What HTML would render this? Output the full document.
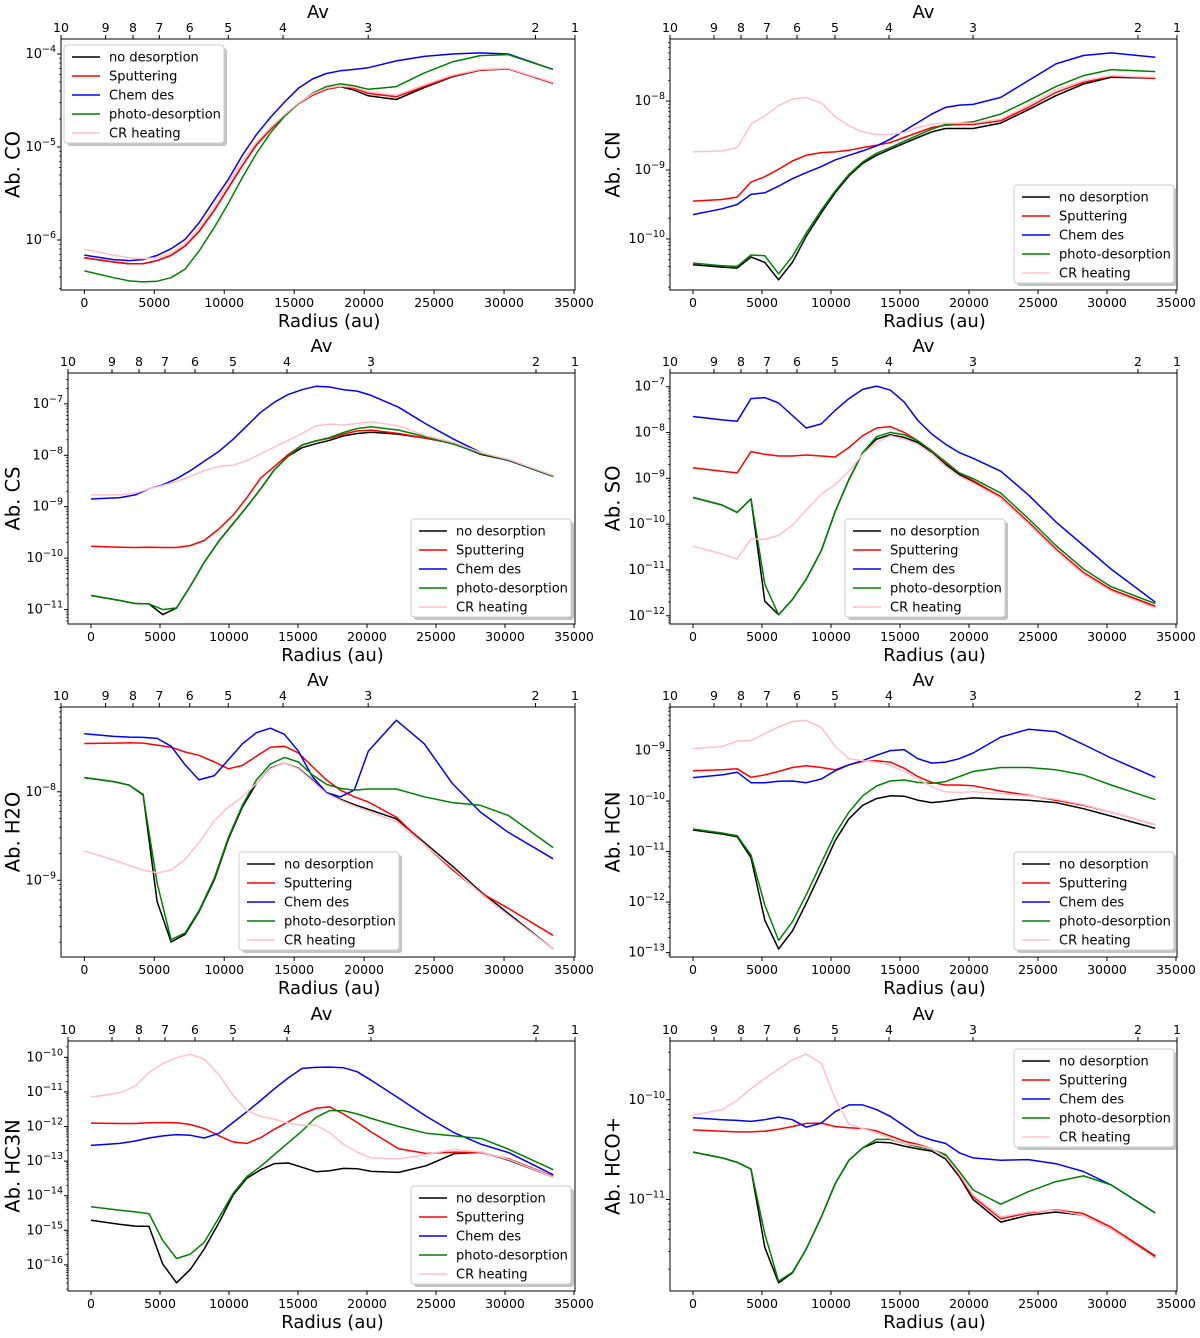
<!DOCTYPE html>
<html><head><meta charset="utf-8"><title>Desorption abundances</title>
<style>
html,body{margin:0;padding:0;background:#fff;}
svg{display:block;font-family:"DejaVu Sans","Liberation Sans",sans-serif;}
</style></head>
<body>
<svg id="fig" width="1200" height="1338" viewBox="0 0 1200 1338" xmlns="http://www.w3.org/2000/svg"></svg>
<script>
// Radius grid (au)
const radius = [0,2100,3200,4200,5200,6200,7200,8200,9300,10300,11300,12300,13300,14300,15300,16300,17300,18300,19300,20300,22300,24300,26300,28300,30300,33500];
// Av top-axis: labels and the radius (au) where each Av occurs
const avLabels = [10,9,8,7,6,5,4,3,2,1];
const avRadius = [-1667,1522,3478,5362,7536,10290,14203,20290,32246,35072];
const xTicks = [0,5000,10000,15000,20000,25000,30000,35000];
const seriesNames = ["no desorption","Sputtering","Chem des","photo-desorption","CR heating"];
// all values: log10(abundance)
const co_none=[-6.192,-6.237,-6.255,-6.255,-6.222,-6.166,-6.065,-5.909,-5.679,-5.439,-5.199,-4.978,-4.812,-4.664,-4.535,-4.443,-4.380,-4.351,-4.390,-4.450,-4.490,-4.360,-4.245,-4.175,-4.160,-4.314];
const co_sput=[-6.192,-6.237,-6.255,-6.255,-6.222,-6.166,-6.065,-5.909,-5.679,-5.439,-5.199,-4.978,-4.812,-4.664,-4.535,-4.443,-4.380,-4.351,-4.369,-4.424,-4.461,-4.351,-4.240,-4.173,-4.159,-4.314];
const co_chem=[-6.163,-6.211,-6.222,-6.211,-6.166,-6.094,-5.994,-5.817,-5.568,-5.347,-5.089,-4.867,-4.683,-4.517,-4.369,-4.269,-4.210,-4.181,-4.166,-4.148,-4.074,-4.026,-4.0,-3.989,-4.0,-4.166];
const co_photo=[-6.333,-6.406,-6.440,-6.451,-6.443,-6.406,-6.313,-6.120,-5.863,-5.605,-5.328,-5.070,-4.849,-4.672,-4.535,-4.424,-4.351,-4.321,-4.343,-4.380,-4.351,-4.203,-4.085,-4.018,-4.007,-4.166];
const co_cr=[-6.100,-6.163,-6.192,-6.200,-6.192,-6.147,-6.035,-5.872,-5.635,-5.391,-5.155,-4.948,-4.793,-4.653,-4.528,-4.432,-4.369,-4.343,-4.358,-4.406,-4.443,-4.332,-4.229,-4.166,-4.155,-4.306];
const cn_none=[-10.374,-10.408,-10.422,-10.262,-10.340,-10.592,-10.340,-9.961,-9.621,-9.330,-9.087,-8.903,-8.786,-8.699,-8.612,-8.529,-8.447,-8.398,-8.398,-8.398,-8.320,-8.126,-7.922,-7.752,-7.655,-7.670];
const cn_sput=[-9.451,-9.427,-9.393,-9.175,-9.097,-8.990,-8.869,-8.786,-8.748,-8.738,-8.714,-8.675,-8.641,-8.602,-8.529,-8.456,-8.383,-8.350,-8.340,-8.340,-8.286,-8.092,-7.874,-7.728,-7.641,-7.670];
const cn_chem=[-9.646,-9.563,-9.500,-9.354,-9.330,-9.233,-9.126,-9.039,-8.951,-8.854,-8.786,-8.723,-8.650,-8.553,-8.432,-8.311,-8.189,-8.092,-8.058,-8.049,-7.947,-7.704,-7.461,-7.340,-7.301,-7.364];
const cn_photo=[-10.350,-10.388,-10.398,-10.233,-10.243,-10.505,-10.252,-9.913,-9.583,-9.306,-9.063,-8.883,-8.757,-8.675,-8.583,-8.495,-8.408,-8.340,-8.320,-8.301,-8.189,-7.995,-7.791,-7.631,-7.544,-7.573];
const cn_cr=[-8.738,-8.723,-8.675,-8.335,-8.214,-8.068,-7.971,-7.947,-8.029,-8.223,-8.359,-8.447,-8.485,-8.485,-8.456,-8.383,-8.335,-8.320,-8.320,-8.320,-8.262,-8.058,-7.835,-7.704,-7.631,-7.655];
const cs_none=[-10.725,-10.823,-10.882,-10.889,-11.098,-10.967,-10.541,-10.082,-9.656,-9.328,-9.0,-8.652,-8.279,-8.016,-7.852,-7.774,-7.708,-7.623,-7.577,-7.551,-7.590,-7.669,-7.774,-7.984,-8.102,-8.410];
const cs_sput=[-9.767,-9.787,-9.793,-9.787,-9.793,-9.793,-9.754,-9.656,-9.426,-9.164,-8.823,-8.443,-8.213,-7.984,-7.8,-7.721,-7.669,-7.590,-7.525,-7.511,-7.577,-7.669,-7.774,-7.970,-8.102,-8.410];
const cs_chem=[-8.849,-8.823,-8.770,-8.652,-8.574,-8.456,-8.298,-8.115,-7.918,-7.689,-7.426,-7.164,-6.967,-6.816,-6.725,-6.659,-6.672,-6.725,-6.751,-6.836,-7.066,-7.393,-7.689,-7.951,-8.102,-8.410];
const cs_photo=[-10.725,-10.823,-10.882,-10.889,-11.0,-10.967,-10.541,-10.082,-9.656,-9.328,-9.0,-8.652,-8.279,-8.016,-7.8,-7.721,-7.656,-7.557,-7.479,-7.446,-7.511,-7.643,-7.787,-7.970,-8.095,-8.410];
const cs_cr=[-8.770,-8.770,-8.738,-8.652,-8.587,-8.508,-8.410,-8.298,-8.213,-8.193,-8.102,-7.970,-7.839,-7.708,-7.577,-7.426,-7.393,-7.413,-7.380,-7.348,-7.426,-7.623,-7.754,-7.951,-8.082,-8.390];
const so_none=[-9.419,-9.581,-9.743,-9.448,-11.683,-11.978,-11.646,-11.204,-10.577,-9.729,-9.028,-8.438,-8.143,-8.047,-8.106,-8.217,-8.438,-8.696,-8.917,-9.065,-9.397,-9.950,-10.540,-11.056,-11.425,-11.794];
const so_sput=[-8.770,-8.844,-8.881,-8.416,-8.475,-8.512,-8.512,-8.490,-8.512,-8.534,-8.327,-8.069,-7.900,-7.870,-7.996,-8.180,-8.401,-8.659,-8.881,-9.050,-9.397,-9.950,-10.540,-11.056,-11.425,-11.794];
const so_chem=[-7.649,-7.723,-7.752,-7.258,-7.236,-7.354,-7.627,-7.900,-7.811,-7.516,-7.258,-7.059,-6.985,-7.074,-7.332,-7.737,-8.032,-8.254,-8.438,-8.563,-8.844,-9.360,-9.950,-10.466,-10.982,-11.705];
const so_photo=[-9.419,-9.581,-9.743,-9.448,-11.314,-11.978,-11.646,-11.204,-10.577,-9.729,-9.028,-8.438,-8.091,-7.996,-8.047,-8.180,-8.401,-8.637,-8.881,-9.006,-9.323,-9.876,-10.466,-10.982,-11.366,-11.735];
const so_cr=[-10.481,-10.650,-10.761,-10.319,-10.333,-10.245,-10.024,-9.692,-9.345,-9.139,-8.844,-8.475,-8.217,-8.069,-8.143,-8.254,-8.460,-8.733,-8.954,-9.102,-9.434,-9.987,-10.577,-11.093,-11.462,-11.830];
const h2o_none=[-7.840,-7.885,-7.924,-8.031,-9.240,-9.698,-9.611,-9.355,-8.992,-8.534,-8.172,-7.905,-7.733,-7.676,-7.733,-7.866,-8.008,-8.084,-8.145,-8.198,-8.305,-8.573,-8.840,-9.126,-9.374,-9.775];
const h2o_sput=[-7.454,-7.450,-7.447,-7.450,-7.473,-7.496,-7.550,-7.588,-7.664,-7.740,-7.702,-7.599,-7.496,-7.485,-7.561,-7.714,-7.866,-7.981,-8.057,-8.115,-8.286,-8.592,-8.878,-9.137,-9.317,-9.622];
const h2o_chem=[-7.344,-7.374,-7.382,-7.385,-7.397,-7.485,-7.695,-7.866,-7.817,-7.637,-7.458,-7.332,-7.282,-7.351,-7.542,-7.828,-8.008,-8.057,-7.981,-7.542,-7.191,-7.458,-7.905,-8.229,-8.458,-8.756];
const h2o_photo=[-7.840,-7.885,-7.924,-8.038,-9.031,-9.672,-9.595,-9.344,-8.973,-8.515,-8.153,-7.866,-7.687,-7.611,-7.664,-7.809,-7.916,-7.962,-7.981,-7.969,-7.969,-8.057,-8.122,-8.153,-8.267,-8.630];
const h2o_cr=[-8.668,-8.771,-8.832,-8.885,-8.916,-8.885,-8.763,-8.573,-8.324,-8.172,-8.057,-7.905,-7.740,-7.676,-7.740,-7.878,-8.019,-8.095,-8.160,-8.221,-8.336,-8.592,-8.859,-9.145,-9.393,-9.775];
const hcn_none=[-10.572,-10.652,-10.706,-11.120,-12.358,-12.926,-12.572,-12.023,-11.388,-10.786,-10.351,-10.084,-9.950,-9.896,-9.903,-9.983,-10.030,-10.003,-9.963,-9.936,-9.963,-9.983,-10.030,-10.151,-10.298,-10.538];
const hcn_sput=[-9.401,-9.381,-9.361,-9.528,-9.482,-9.415,-9.334,-9.301,-9.334,-9.381,-9.281,-9.214,-9.201,-9.227,-9.348,-9.515,-9.629,-9.682,-9.682,-9.696,-9.803,-9.883,-9.983,-10.084,-10.217,-10.472];
const hcn_chem=[-9.535,-9.482,-9.428,-9.635,-9.635,-9.609,-9.602,-9.635,-9.562,-9.401,-9.281,-9.201,-9.094,-9.0,-8.980,-9.161,-9.247,-9.227,-9.161,-9.047,-8.732,-8.579,-8.625,-8.880,-9.147,-9.528];
const hcn_photo=[-10.552,-10.632,-10.686,-11.067,-12.057,-12.759,-12.391,-11.856,-11.221,-10.652,-10.217,-9.896,-9.702,-9.602,-9.582,-9.629,-9.649,-9.615,-9.515,-9.415,-9.334,-9.334,-9.381,-9.482,-9.682,-9.970];
const hcn_cr=[-8.960,-8.920,-8.813,-8.799,-8.666,-8.532,-8.425,-8.398,-8.545,-8.913,-9.161,-9.201,-9.227,-9.294,-9.415,-9.562,-9.716,-9.816,-9.829,-9.816,-9.849,-9.896,-9.963,-10.070,-10.217,-10.472];
const hc3n_none=[-14.712,-14.829,-14.878,-14.888,-15.980,-16.517,-16.127,-15.541,-14.761,-13.980,-13.493,-13.249,-13.073,-13.054,-13.180,-13.307,-13.278,-13.210,-13.220,-13.298,-13.327,-13.132,-12.790,-12.741,-12.976,-13.463];
const hc3n_sput=[-11.902,-11.912,-11.912,-11.893,-11.883,-11.893,-11.941,-12.059,-12.273,-12.449,-12.488,-12.322,-12.078,-11.863,-11.639,-11.473,-11.434,-11.639,-11.883,-12.156,-12.644,-12.780,-12.741,-12.761,-12.937,-13.444];
const hc3n_chem=[-12.546,-12.488,-12.420,-12.332,-12.273,-12.234,-12.254,-12.332,-12.195,-11.883,-11.571,-11.249,-10.907,-10.595,-10.322,-10.293,-10.283,-10.302,-10.420,-10.663,-11.180,-11.707,-12.176,-12.517,-12.761,-13.395];
const hc3n_photo=[-14.322,-14.420,-14.468,-14.517,-15.298,-15.815,-15.688,-15.346,-14.615,-13.932,-13.444,-13.151,-12.810,-12.468,-12.127,-11.737,-11.541,-11.541,-11.639,-11.766,-12.0,-12.195,-12.273,-12.351,-12.663,-13.249];
const hc3n_cr=[-11.151,-11.024,-10.829,-10.439,-10.176,-10.010,-9.912,-10.049,-10.517,-11.102,-11.541,-11.707,-11.785,-11.902,-11.961,-11.961,-12.176,-12.517,-12.741,-12.907,-12.937,-12.810,-12.663,-12.741,-12.956,-13.463];
const hco_none=[-10.525,-10.583,-10.627,-10.695,-11.481,-11.837,-11.736,-11.498,-11.176,-10.844,-10.607,-10.481,-10.424,-10.431,-10.464,-10.492,-10.515,-10.593,-10.769,-11.0,-11.227,-11.159,-11.125,-11.159,-11.295,-11.583];
const hco_sput=[-10.302,-10.315,-10.322,-10.322,-10.315,-10.295,-10.268,-10.237,-10.234,-10.268,-10.281,-10.288,-10.312,-10.363,-10.414,-10.447,-10.492,-10.566,-10.753,-10.973,-11.193,-11.136,-11.102,-11.142,-11.278,-11.566];
const hco_chem=[-10.180,-10.200,-10.207,-10.217,-10.200,-10.173,-10.200,-10.275,-10.234,-10.119,-10.051,-10.051,-10.098,-10.166,-10.261,-10.356,-10.403,-10.437,-10.532,-10.583,-10.607,-10.600,-10.641,-10.719,-10.854,-11.136];
const hco_photo=[-10.525,-10.583,-10.627,-10.695,-11.346,-11.820,-11.730,-11.498,-11.176,-10.844,-10.607,-10.481,-10.397,-10.397,-10.437,-10.471,-10.498,-10.549,-10.719,-10.905,-11.047,-10.922,-10.820,-10.763,-10.854,-11.136];
const hco_cr=[-10.153,-10.098,-10.007,-9.888,-9.786,-9.692,-9.600,-9.542,-9.634,-9.990,-10.244,-10.288,-10.329,-10.390,-10.437,-10.458,-10.492,-10.573,-10.742,-10.956,-11.176,-11.125,-11.108,-11.159,-11.295,-11.590];

const colors = ["#000000","#ff0000","#0000ff","#008000","#ffc0cb"];
const panels = [
 {id:"co", title:"Ab. CO", L:61,R:575,T:39,B:290, y0:-6.538,y1:-3.839, leg:[64,45], s:[co_none,co_sput,co_chem,co_photo,co_cr]},
 {id:"cn", title:"Ab. CN", L:670,R:1177,T:39,B:290, y0:-10.74,y1:-7.10, leg:[1014,185], s:[cn_none,cn_sput,cn_chem,cn_photo,cn_cr]},
 {id:"cs", title:"Ab. CS", L:68,R:575,T:373,B:624, y0:-11.28,y1:-6.40, leg:[411,519], s:[cs_none,cs_sput,cs_chem,cs_photo,cs_cr]},
 {id:"so", title:"Ab. SO", L:670,R:1177,T:373,B:624, y0:-12.18,y1:-6.70, leg:[845,519], s:[so_none,so_sput,so_chem,so_photo,so_cr]},
 {id:"h2o", title:"Ab. H2O", L:61,R:575,T:707,B:957, y0:-9.867,y1:-7.042, leg:[239,852], s:[h2o_none,h2o_sput,h2o_chem,h2o_photo,h2o_cr]},
 {id:"hcn", title:"Ab. HCN", L:670,R:1177,T:707,B:957, y0:-13.087,y1:-8.137, leg:[1014,852], s:[hcn_none,hcn_sput,hcn_chem,hcn_photo,hcn_cr]},
 {id:"hc3n", title:"Ab. HC3N", L:68,R:575,T:1041,B:1291, y0:-16.754,y1:-9.529, leg:[411,1186], s:[hc3n_none,hc3n_sput,hc3n_chem,hc3n_photo,hc3n_cr]},
 {id:"hco", title:"Ab. HCO+", L:670,R:1177,T:1041,B:1291, y0:-11.918,y1:-9.41, leg:[1014,1049], s:[hco_none,hco_sput,hco_chem,hco_photo,hco_cr]}
];
const XMIN=-1667, XMAX=35072;
const NS="http://www.w3.org/2000/svg";
const svg=document.getElementById('fig');
function mk(tag,attrs,parent){const e=document.createElementNS(NS,tag);for(const k in attrs)e.setAttribute(k,attrs[k]);(parent||svg).appendChild(e);return e;}

panels.forEach(p=>{
  const g=mk('g',{});
  
  
  const xs=r=>p.L+(r-XMIN)/(XMAX-XMIN)*(p.R-p.L);
  const ys=v=>p.B-(v-p.y0)/(p.y1-p.y0)*(p.B-p.T);
  const clipId='clip-'+p.id;
  const cp=mk('clipPath',{id:clipId},g);
  mk('rect',{x:p.L,y:p.T,width:p.R-p.L,height:p.B-p.T},cp);
  const lg=mk('g',{'clip-path':'url(#'+clipId+')'},g);
  p.s.forEach((arr,i)=>{
    const d=arr.map((v,j)=>(j?'L':'M')+xs(radius[j]).toFixed(1)+' '+ys(v).toFixed(1)).join(' ');
    const path=mk('path',{d:d,fill:'none',stroke:colors[i],'stroke-width':1.5,'stroke-linejoin':'round'},lg);
    
    
  });
  const fr=mk('rect',{x:p.L,y:p.T,width:p.R-p.L,height:p.B-p.T,fill:'none',stroke:'#000','stroke-width':1},g);
  
  
  xTicks.forEach(t=>{
    const x=xs(t);
    mk('line',{x1:x,x2:x,y1:p.B,y2:p.B+4,stroke:'#000'},g);
    const tx=mk('text',{x:x,y:p.B+17,'font-size':12.5,'text-anchor':'middle',fill:'#000'},g);
    tx.textContent=String(t);
    
    
  });
  const xl=mk('text',{x:(xs(0)+xs(35000))/2,y:p.B+37,'font-size':18,'text-anchor':'middle'},g);
  xl.textContent='Radius (au)';
  
  
  avLabels.forEach((a,i)=>{
    const x=xs(avRadius[i]);
    mk('line',{x1:x,x2:x,y1:p.T,y2:p.T-4,stroke:'#000'},g);
    const tx=mk('text',{x:x,y:p.T-7,'font-size':12.5,'text-anchor':'middle'},g);
    tx.textContent=String(a);
    
    
  });
  const at=mk('text',{x:(p.L+p.R)/2,y:p.T-21,'font-size':18,'text-anchor':'middle'},g);
  at.textContent='Av';
  
  
  for(let d=Math.floor(p.y0);d<=Math.ceil(p.y1);d++){
    for(let m=1;m<10;m++){
      const v=d+Math.log10(m);
      if(v<p.y0||v>p.y1)continue;
      const y=ys(v);
      mk('line',{x1:p.L,x2:p.L-(m===1?4:2),y1:y,y2:y,stroke:'#000','stroke-width':m===1?1:0.7},g);
      if(m===1){
        const tx=mk('text',{x:p.L-5,y:y+4,'font-size':13,'text-anchor':'end'},g);
        
        
        const t1=mk('tspan',{},tx);t1.textContent='10';
        const t2=mk('tspan',{'font-size':9.5,dy:-6},tx);t2.textContent='\u2212'+(-d);
      }
    }
  }
  const yc=(p.T+p.B)/2, yx=p.L<300?13:613;
  const yt=mk('text',{x:yx,y:yc,'font-size':19.5,'text-anchor':'middle','dominant-baseline':'central',transform:'rotate(-90 '+yx+' '+yc+')'},g);
  yt.textContent=p.title;
  
  
  const [lx,ly]=p.leg;
  const leg=mk('g',{},g);
  
  
  mk('rect',{x:lx+3,y:ly+3,width:160,height:98,rx:3,fill:'#888','fill-opacity':0.5},leg);
  mk('rect',{x:lx,y:ly,width:160,height:98,rx:3,fill:'#fff',stroke:'#cccccc'},leg);
  seriesNames.forEach((n,i)=>{
    const y=ly+12+i*19;
    const ent=mk('g',{},leg);
    
    
    mk('line',{x1:lx+8,x2:lx+36,y1:y,y2:y,stroke:colors[i],'stroke-width':1.5},ent);
    const tx=mk('text',{x:lx+45,y:y+4.5,'font-size':13},ent);
    tx.textContent=n;
  });
});
</script>
</body></html>
